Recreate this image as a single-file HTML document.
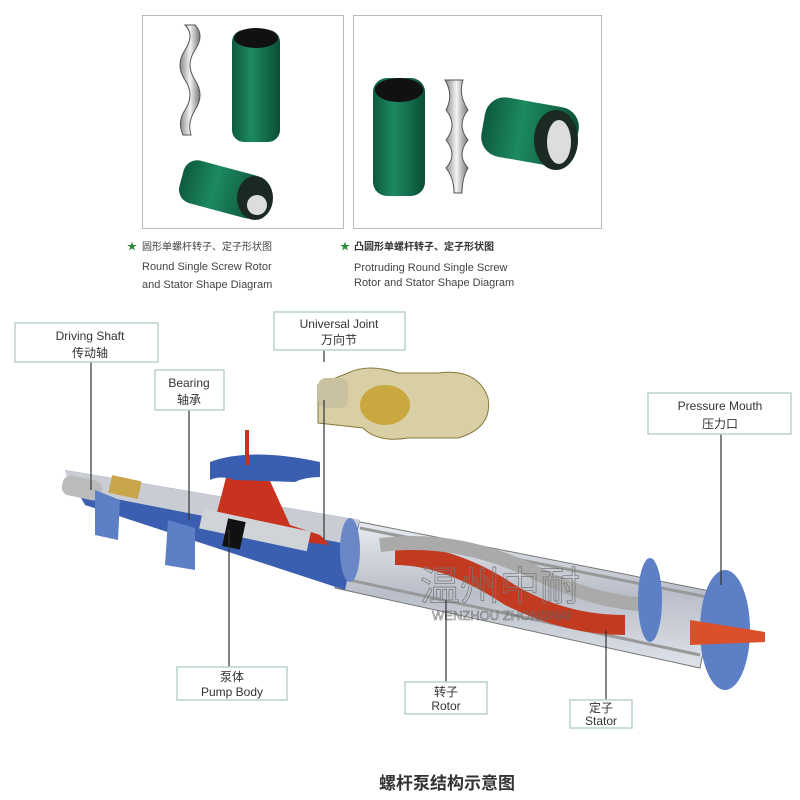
<!DOCTYPE html>
<html><head><meta charset="utf-8"><style>
html,body{margin:0;padding:0;background:#fff;}
svg{display:block;}
text{font-family:"Liberation Sans","Noto Sans CJK SC",sans-serif;}
</style></head><body>
<svg width="800" height="800" viewBox="0 0 800 800" xmlns="http://www.w3.org/2000/svg">
<defs>
<linearGradient id="grn" x1="0" x2="1"><stop offset="0" stop-color="#0d5a3e"/><stop offset=".4" stop-color="#1d8a60"/><stop offset="1" stop-color="#0b4e35"/></linearGradient>
<linearGradient id="met" x1="0" x2="1"><stop offset="0" stop-color="#888"/><stop offset=".5" stop-color="#f4f4f4"/><stop offset="1" stop-color="#777"/></linearGradient>
<linearGradient id="tube" x1="0" y1="0" x2="0" y2="1"><stop offset="0" stop-color="#e8ecf2"/><stop offset=".5" stop-color="#b9bec8"/><stop offset="1" stop-color="#dfe3ea"/></linearGradient>
</defs>
<rect x="142.5" y="15.5" width="201" height="213" fill="#fff" stroke="#bbb"/>
<rect x="353.5" y="15.5" width="248" height="213" fill="#fff" stroke="#bbb"/>
<path d="M185,25 q10,10 0,25 q-10,15 0,30 q10,15 0,30 q-8,12 -2,25 l8,0 q-4,-12 4,-25 q10,-15 0,-30 q-10,-15 0,-30 q10,-15 0,-25z" fill="url(#met)" stroke="#555" stroke-width="1"/>
<rect x="232" y="30" width="48" height="112" rx="12" fill="url(#grn)"/>
<ellipse cx="256" cy="38" rx="22" ry="10" fill="#111"/>
<g transform="rotate(15 225 190)"><rect x="180" y="168" width="85" height="44" rx="14" fill="url(#grn)"/></g>
<ellipse cx="255" cy="198" rx="18" ry="22" fill="#1a2a22"/>
<circle cx="257" cy="205" r="10" fill="#ddd"/>
<rect x="373" y="78" width="52" height="118" rx="14" fill="url(#grn)"/>
<ellipse cx="399" cy="90" rx="24" ry="12" fill="#111"/>
<path d="M445,80 l18,0 q-5,15 5,30 q-12,15 0,30 q-12,15 0,28 q-6,10 -6,25 l-8,0 q0,-15 -8,-25 q12,-13 0,-28 q12,-15 0,-30 q8,-15 -1,-30z" fill="url(#met)" stroke="#555"/>
<g transform="rotate(10 530 135)"><rect x="482" y="102" width="95" height="60" rx="20" fill="url(#grn)"/></g>
<ellipse cx="556" cy="140" rx="22" ry="30" fill="#1b2a22"/>
<ellipse cx="559" cy="142" rx="12" ry="22" fill="#ddd"/>
<text x="127" y="250" font-size="10" fill="#2a8a3a">★</text>
<text x="142" y="250" font-size="10" fill="#444">圆形单螺杆转子、定子形状图</text>
<text x="142" y="270" font-size="11" fill="#444">Round Single Screw Rotor</text>
<text x="142" y="288" font-size="11" fill="#444">and Stator Shape Diagram</text>
<text x="340" y="250" font-size="10" fill="#2a8a3a">★</text>
<text x="354" y="250" font-size="10" fill="#333" font-weight="bold">凸圆形单螺杆转子、定子形状图</text>
<text x="354" y="271" font-size="11" fill="#444">Protruding Round Single Screw</text>
<text x="354" y="286" font-size="11" fill="#444">Rotor and Stator Shape Diagram</text>

<path d="M318,385 l30,-12 q20,-10 50,0 l40,0 q40,-5 50,25 q5,30 -30,40 l-50,0 q-30,5 -45,-10 l-45,-5z" fill="#d8cfa4" stroke="#8a7a40"/>
<rect x="318" y="378" width="30" height="30" rx="8" fill="#c9c1a0"/>
<ellipse cx="385" cy="405" rx="25" ry="20" fill="#c9a840"/>
<polygon points="350,520 715,592 700,668 335,588" fill="url(#tube)" stroke="#777"/>
<line x1="360" y1="528" x2="712" y2="598" stroke="#999" stroke-width="3"/>
<line x1="340" y1="578" x2="700" y2="655" stroke="#999" stroke-width="3"/>
<path d="M395,545 q60,0 120,40 q50,30 110,30 l0,20 q-60,0 -120,-30 q-60,-40 -110,-40z" fill="#c23a20"/>
<path d="M380,545 q80,-10 160,30 q60,30 120,30" fill="none" stroke="#aaa" stroke-width="14"/>
<polygon points="65,470 360,520 345,590 85,505" fill="#3a5fb0"/>
<polygon points="65,470 360,520 352,545 70,490" fill="#c9ccd2"/>
<rect x="62" y="478" width="40" height="20" rx="8" fill="#bbb" transform="rotate(12 82 488)"/>
<rect x="110" y="478" width="30" height="18" fill="#c9a54a" transform="rotate(12 125 487)"/>
<polygon points="95,490 120,500 118,540 95,535" fill="#5d7fc5"/>
<polygon points="168,520 195,528 195,570 165,565" fill="#5d7fc5"/>
<polygon points="228,470 265,470 290,525 320,535 330,545 240,535 215,520" fill="#c8321e"/>
<path d="M210,462 q40,-15 110,0 l0,15 q-15,0 -25,5 l-60,-2 q-15,-5 -25,0z" fill="#3a5fb0"/>
<line x1="247" y1="430" x2="247" y2="465" stroke="#c8321e" stroke-width="4"/>
<rect x="200" y="520" width="110" height="20" fill="#d0d3d8" transform="rotate(12 255 530)"/>
<rect x="225" y="520" width="18" height="28" fill="#111" transform="rotate(12 234 534)"/>
<ellipse cx="725" cy="630" rx="25" ry="60" fill="#5d7fc5"/>
<ellipse cx="650" cy="600" rx="12" ry="42" fill="#5d7fc5"/>
<polygon points="690,620 765,632 765,642 690,645" fill="#d9502a"/>
<ellipse cx="350" cy="550" rx="10" ry="32" fill="#6a88c8"/>
<text x="420" y="600" font-size="40" fill="none" stroke="#777" stroke-width=".7">温州中耐</text>
<text x="432" y="620" font-size="13" fill="none" stroke="#666" stroke-width=".5">WENZHOU ZHONGNAI</text>

<g stroke="#333" stroke-width="1.2">
<line x1="91" y1="362" x2="91" y2="490"/>
<line x1="189" y1="410" x2="189" y2="520"/>
<line x1="324" y1="350" x2="324" y2="362"/>
<line x1="324" y1="400" x2="324" y2="540"/>
<line x1="721" y1="434" x2="721" y2="585"/>
<line x1="229" y1="530" x2="229" y2="667"/>
<line x1="446" y1="600" x2="446" y2="682"/>
<line x1="606" y1="630" x2="606" y2="700"/>
</g>
<g fill="#fff" stroke="#b9d2cc" stroke-width="1.5">
<rect x="15" y="323" width="143" height="39"/>
<rect x="274" y="312" width="131" height="38"/>
<rect x="155" y="370" width="69" height="40"/>
<rect x="648" y="393" width="143" height="41"/>
<rect x="177" y="667" width="110" height="33"/>
<rect x="405" y="682" width="82" height="32"/>
<rect x="570" y="700" width="62" height="28"/>
</g>
<g font-size="12" fill="#333" text-anchor="middle">
<text x="90" y="340">Driving Shaft</text><text x="90" y="357">传动轴</text>
<text x="339" y="328">Universal Joint</text><text x="339" y="344">万向节</text>
<text x="189" y="387">Bearing</text><text x="189" y="404">轴承</text>
<text x="720" y="410">Pressure Mouth</text><text x="720" y="428">压力口</text>
<text x="232" y="681">泵体</text><text x="232" y="696">Pump Body</text>
<text x="446" y="696">转子</text><text x="446" y="710">Rotor</text>
<text x="601" y="712">定子</text><text x="601" y="725">Stator</text>
</g>
<text x="447" y="789" font-size="17" font-weight="bold" fill="#333" text-anchor="middle">螺杆泵结构示意图</text>
</svg>
</body></html>
